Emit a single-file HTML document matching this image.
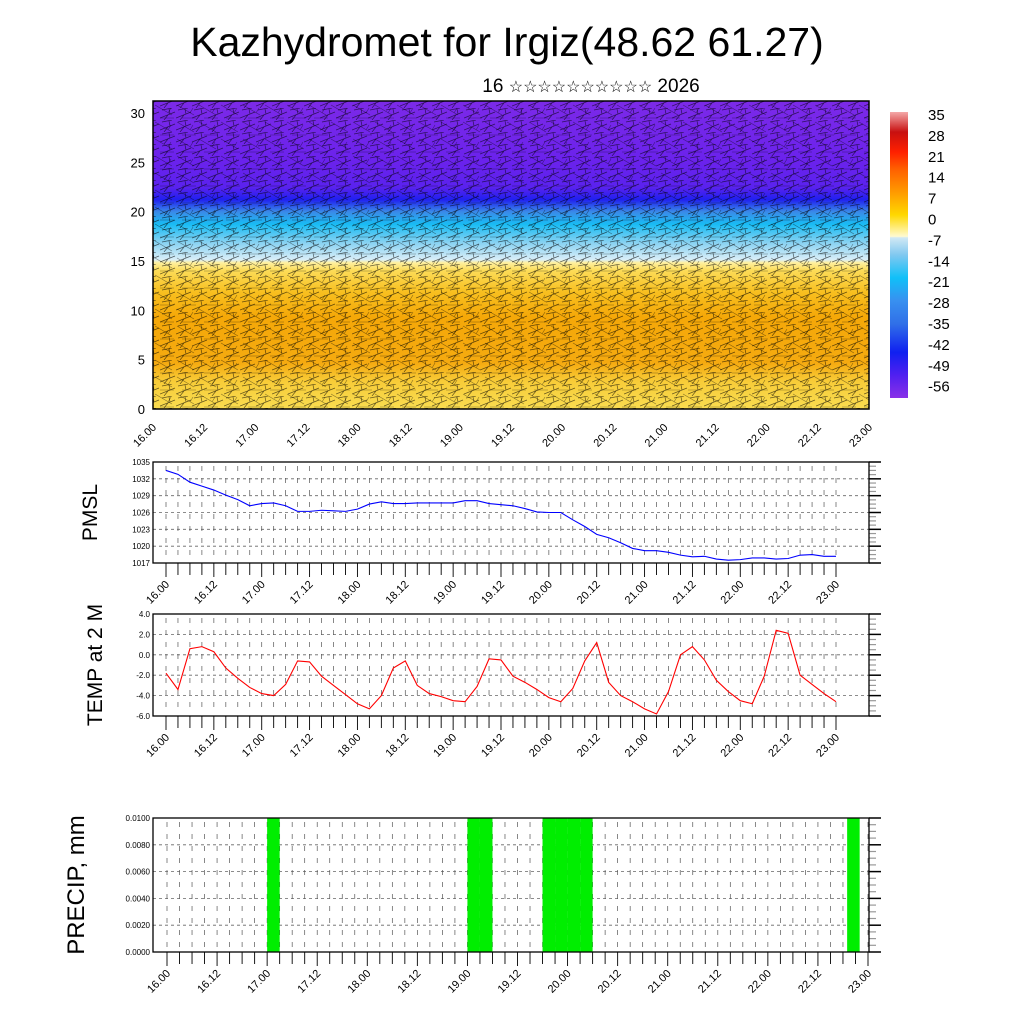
<!DOCTYPE html>
<html><head><meta charset="utf-8"><style>
body{margin:0;background:#fff}
svg{display:block;font-family:"Liberation Sans",sans-serif}
</style></head><body>
<svg id="c" width="1024" height="1024" viewBox="0 0 1024 1024">
<defs>
<linearGradient id="tg" x1="0" y1="1" x2="0" y2="0">
<stop offset="0" stop-color="#f9dc50"/><stop offset="0.09" stop-color="#f8cc38"/>
<stop offset="0.15" stop-color="#f5aa10"/><stop offset="0.3" stop-color="#f5a808"/>
<stop offset="0.38" stop-color="#f8c020"/><stop offset="0.45" stop-color="#fcdc58"/>
<stop offset="0.475" stop-color="#fff0a0"/><stop offset="0.485" stop-color="#d8eef8"/>
<stop offset="0.54" stop-color="#88d2f2"/><stop offset="0.6" stop-color="#18bcf4"/>
<stop offset="0.64" stop-color="#3a8ae8"/><stop offset="0.68" stop-color="#2020f0"/>
<stop offset="0.72" stop-color="#5a22ee"/><stop offset="0.8" stop-color="#6a22ec"/>
<stop offset="1" stop-color="#7c2ae8"/></linearGradient>
<linearGradient id="cb" x1="0" y1="1" x2="0" y2="0">
<stop offset="0" stop-color="#8a30e8"/><stop offset="0.08" stop-color="#5020f0"/>
<stop offset="0.16" stop-color="#1020f0"/><stop offset="0.26" stop-color="#3070e8"/>
<stop offset="0.34" stop-color="#3890f0"/><stop offset="0.42" stop-color="#10c0f8"/>
<stop offset="0.5" stop-color="#80c8f0"/><stop offset="0.56" stop-color="#d0e8f4"/>
<stop offset="0.565" stop-color="#fffad0"/><stop offset="0.64" stop-color="#ffd800"/>
<stop offset="0.72" stop-color="#ff9a00"/><stop offset="0.8" stop-color="#ff6000"/>
<stop offset="0.86" stop-color="#ff2000"/><stop offset="0.93" stop-color="#c81010"/>
<stop offset="1" stop-color="#f4a8a8"/></linearGradient>
<pattern id="barbs" width="16" height="12" patternUnits="userSpaceOnUse">
<path d="M0 10 L15 4 M10 6 L9 1 M2 2 L12 0 M4 12 L8 7" stroke="#000" stroke-width="0.7" fill="none" opacity="0.6"/>
</pattern>
<pattern id="barbs2" width="22" height="17" patternUnits="userSpaceOnUse">
<path d="M1 3 L18 13 M14 11 L17 6 M6 16 L20 16" stroke="#000" stroke-width="0.6" fill="none" opacity="0.45"/>
</pattern>
</defs>
</svg>
<script>
const pmsl=[1033.5,1032.8,1031.4,1030.7,1030.0,1029.1,1028.3,1027.2,1027.6,1027.7,1027.2,1026.2,1026.2,1026.4,1026.3,1026.2,1026.6,1027.5,1027.9,1027.6,1027.6,1027.7,1027.7,1027.7,1027.7,1028.1,1028.1,1027.6,1027.4,1027.2,1026.7,1026.1,1026.0,1026.0,1024.7,1023.5,1022.1,1021.5,1020.6,1019.6,1019.2,1019.2,1018.9,1018.4,1018.1,1018.2,1017.7,1017.5,1017.6,1017.9,1017.9,1017.7,1017.8,1018.4,1018.5,1018.2,1018.2];
const temp=[-1.8,-3.4,0.6,0.8,0.3,-1.3,-2.3,-3.2,-3.8,-4.0,-2.9,-0.6,-0.7,-2.1,-3.0,-3.9,-4.8,-5.3,-4.0,-1.3,-0.6,-3.0,-3.8,-4.1,-4.5,-4.6,-3.1,-0.4,-0.5,-2.1,-2.7,-3.4,-4.2,-4.6,-3.3,-0.6,1.2,-2.7,-4.0,-4.6,-5.3,-5.8,-3.6,0.0,0.8,-0.5,-2.5,-3.6,-4.5,-4.8,-2.1,2.4,2.1,-2.0,-2.9,-3.8,-4.6];
const precipHours=[24,72,75,90,93,96,99,163];
const precipVals=[0.01,0.01,0.01,0.01,0.01,0.01,0.01,0.01];
const xLabels=["16.00","16.12","17.00","17.12","18.00","18.12","19.00","19.12","20.00","20.12","21.00","21.12","22.00","22.12","23.00"];
const pmslTicks=[1017,1020,1023,1026,1029,1032,1035];
const tempTicks=[-6.0,-4.0,-2.0,0.0,2.0,4.0];
const precipTicks=[0,0.002,0.004,0.006,0.008,0.01];
const cbLabels=["35","28","21","14","7","0","-7","-14","-21","-28","-35","-42","-49","-56"];
const heightTicks=[0,5,10,15,20,25,30];

const S=document.getElementById('c'),NS='http://www.w3.org/2000/svg';
function el(t,a,p){const e=document.createElementNS(NS,t);for(const k in a)e.setAttribute(k,a[k]);(p||S).appendChild(e);return e;}
function txt(x,y,s,size,anchor,rot){const e=el('text',{x:x,y:y,'font-size':size,'text-anchor':anchor||'start',fill:'#000'});if(rot)e.setAttribute('transform','rotate('+rot+' '+x+' '+y+')');e.textContent=s;return e;}

let t=txt(507,56,"Kazhydromet for Irgiz(48.62 61.27)",41,'middle');


t=el('text',{x:591,y:92,'font-size':19,'text-anchor':'middle',fill:'#000'});


t.innerHTML='16 <tspan font-size="16">☆☆☆☆☆☆☆☆☆☆</tspan> 2026';

const tx0=153,tx1=869,ty0=101,ty1=409;
const hy=v=>409-v*9.87;
let r=el('rect',{x:tx0,y:ty0,width:tx1-tx0,height:ty1-ty0,fill:'url(#tg)'});


r=el('rect',{x:tx0,y:ty0,width:tx1-tx0,height:ty1-ty0,fill:'url(#barbs)'});


r=el('rect',{x:tx0,y:ty0,width:tx1-tx0,height:ty1-ty0,fill:'url(#barbs2)'});


el('rect',{x:tx0,y:ty0,width:tx1-tx0,height:ty1-ty0,fill:'none',stroke:'#000','stroke-width':1.5});
heightTicks.forEach(v=>{const l=txt(145,hy(v)+5,String(v),13,'end');});
xLabels.forEach((s,i)=>{const x=tx0+i*(tx1-tx0)/14;const l=txt(x+4,428,s,11,'end',-45);});

r=el('rect',{x:890,y:112,width:18,height:286,fill:'url(#cb)'});


cbLabels.forEach((s,i)=>{const l=txt(928,120+i*20.9,s,15,'start');});

function panel(o){
  const {y0,y1,ymin,ymax,ticks,fmt,fs,dx0,dx1}=o;
  const X0=153,X1=869;
  const ys=v=>y1-(v-ymin)/(ymax-ymin)*(y1-y0);
  const xs=h=>dx0+h/168*(dx1-dx0);
  const g=el('g',{});
  
  
  ticks.forEach(v=>{if(v!==ymin&&v!==ymax)el('line',{x1:X0,x2:X1,y1:ys(v),y2:ys(v),stroke:'#666','stroke-width':0.8,'stroke-dasharray':'3,3'},g);});
  for(let h=0;h<=168;h+=3){el('line',{x1:xs(h),x2:xs(h),y1:y0+4,y2:y1-2,stroke:'#555','stroke-width':0.7,'stroke-dasharray':'5,7'},g);
    el('line',{x1:xs(h),x2:xs(h),y1:y1,y2:y1+(h%12==0?14:12),stroke:'#000','stroke-width':0.9},g);}
  const n=ticks.length-1;
  for(let k=0;k<=n*4;k++){const y=y0+k*(y1-y0)/(n*4);const big=k%4==0;
    el('line',{x1:X1,x2:X1+(big?12:7),y1:y,y2:y,stroke:big?'#000':'#999','stroke-width':big?1.5:1.2},g);}
  if(o.draw)o.draw(g,xs,ys);
  el('rect',{x:X0,y:y0,width:X1-X0,height:y1-y0,fill:'none',stroke:'#000','stroke-width':1.3},g);
  ticks.forEach(v=>{const l=txt(X0-3,ys(v)+3,fmt(v),fs,'end',0);g.appendChild(l);});
  xLabels.forEach((s,i)=>{const x=xs(i*12);const l=txt(x+4,y1+22,s,11,'end',-45);g.appendChild(l);});
  const at=txt(o.tx,(y0+y1)/2,o.title,o.tfs,'middle',-90);
  
  
  g.appendChild(at);
}
function line(arr,color){return (g,xs,ys)=>{const p=el('polyline',{points:arr.map((v,i)=>xs(i*3)+','+ys(v)).join(' '),fill:'none',stroke:color,'stroke-width':1.1},g);
  
  };}
panel({name:'pmsl-panel',y0:462,y1:563,ymin:1017,ymax:1035,ticks:pmslTicks,fmt:v=>String(v),fs:8,dx0:166,dx1:836,title:'PMSL',tfs:21,tx:97,draw:line(pmsl,'#00f')});
panel({name:'temp-panel',y0:614,y1:716,ymin:-6,ymax:4,ticks:tempTicks,fmt:v=>v.toFixed(1),fs:8,dx0:166,dx1:836,title:'TEMP at 2 M',tfs:21,tx:102,draw:line(temp,'#f00')});
panel({name:'precip-panel',y0:818,y1:952,ymin:0,ymax:0.01,ticks:precipTicks,fmt:v=>v.toFixed(4),fs:8,dx0:167,dx1:868,title:'PRECIP, mm',tfs:24,tx:84,draw:(g,xs,ys)=>{
  precipHours.forEach((h,i)=>{const b=el('rect',{x:xs(h),y:ys(precipVals[i]),width:xs(h+3)-xs(h),height:ys(0)-ys(precipVals[i]),fill:'#00ee00'},g);
    
    });}});
</script>
</body></html>
